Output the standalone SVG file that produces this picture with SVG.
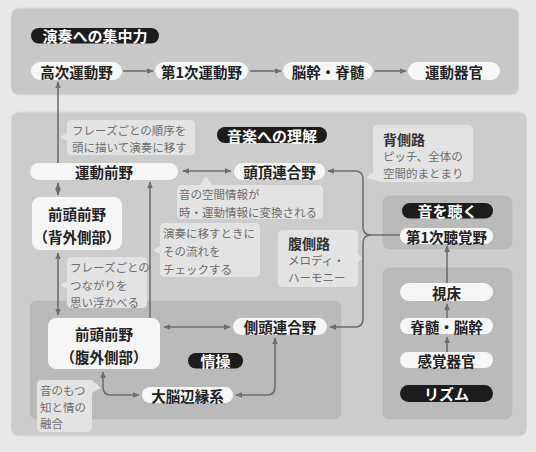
<svg xmlns="http://www.w3.org/2000/svg" width="536" height="452" viewBox="0 0 536 452">
<style>
text{font-family:"Noto Sans CJK JP","Noto Sans CJK SC",sans-serif;dominant-baseline:central}
.panel{fill:#c8c8c8;stroke:#dcdcdc;stroke-width:1}
.sub{fill:#bababa;stroke:#d0d0d0;stroke-width:1}
.pill{fill:#f6f6f6}
.nt{font-size:14.5px;font-weight:bold;fill:#222;text-anchor:middle}
.blk{fill:#1c1c1c}
.bt{font-size:15px;font-weight:bold;fill:#fff;text-anchor:middle}
.call{fill:#e3e3e3}
.ct{font-size:11.5px;fill:#6e6e6e}
.ch{font-size:14px;font-weight:bold;fill:#333}
.edge{fill:none;stroke:#6e6e6e;stroke-width:1.6}
</style>
<defs>
<marker id="ah" viewBox="0 0 10 10" refX="9" refY="5" markerWidth="4.5" markerHeight="4.5" orient="auto-start-reverse" markerUnits="strokeWidth">
<path d="M0,1 L10,5 L0,9 Z" fill="#6e6e6e"/>
</marker>
</defs>
<rect x="0" y="0" width="536" height="452" fill="#e8e8e8"/>
<rect class="panel" x="11" y="8" width="508" height="87" rx="8"/>
<rect class="panel" x="11" y="112" width="516" height="324" rx="8" style="fill:#cccccc"/>
<rect class="sub" x="29" y="300" width="313" height="120" rx="8"/>
<rect class="sub" x="382" y="195" width="131" height="55" rx="8"/>
<rect class="sub" x="382" y="267" width="131" height="153" rx="8"/>

<g id="label-shuchu"><rect class="blk" x="31" y="28" width="128" height="15.5" rx="7.75"/><text class="bt" x="95" y="35.5">演奏への集中力</text></g>
<g id="label-rikai"><rect class="blk" x="217" y="127" width="110" height="16" rx="8"/><text class="bt" x="272" y="135">音楽への理解</text></g>
<g id="label-kiku"><rect class="blk" x="402" y="203" width="91" height="15.5" rx="7.75"/><text class="bt" x="447.5" y="210.5">音を聴く</text></g>
<g id="label-jouso"><rect class="blk" x="188" y="353" width="55" height="15.5" rx="7.75"/><text class="bt" x="215.5" y="360.5">情操</text></g>
<g id="label-rhythm"><rect class="blk" x="400" y="385" width="93" height="17" rx="8.5"/><text class="bt" x="446.5" y="393.5">リズム</text></g>

<g id="connectors">
<path class="edge" d="M123,71 H153" marker-end="url(#ah)"/>
<path class="edge" d="M250,71 H281" marker-end="url(#ah)"/>
<path class="edge" d="M375,71 H406" marker-end="url(#ah)"/>
<path class="edge" d="M58,163 V82" marker-end="url(#ah)"/>
<path class="edge" d="M183,171 H231" marker-start="url(#ah)" marker-end="url(#ah)"/>
<path class="edge" d="M400,235 H371 Q363,235 363,227 V179 Q363,171 355,171 H328" marker-end="url(#ah)"/>
<path class="edge" d="M371,235 Q363,235 363,243 V319 Q363,327 355,327 H330" marker-end="url(#ah)"/>
<path class="edge" d="M58,183 V195" marker-start="url(#ah)" marker-end="url(#ah)"/>
<path class="edge" d="M58,253 V315" marker-start="url(#ah)" marker-end="url(#ah)"/>
<path class="edge" d="M150,318 V182" marker-end="url(#ah)"/>
<path class="edge" d="M164,327 H230" marker-start="url(#ah)" marker-end="url(#ah)"/>
<path class="edge" d="M103,372 V387 Q103,395 111,395 H139" marker-start="url(#ah)" marker-end="url(#ah)"/>
<path class="edge" d="M275,338 V387 Q275,395 267,395 H236" marker-start="url(#ah)" marker-end="url(#ah)"/>
<path class="edge" d="M447,283 V246" marker-end="url(#ah)"/>
<path class="edge" d="M447,318 V304" marker-end="url(#ah)"/>
<path class="edge" d="M447,352 V337" marker-end="url(#ah)"/>
</g>

<g id="call-junjo"><path class="call" d="M72,120 H190 Q195,120 195,125 V150 Q195,155 190,155 H72 Q67,155 67,150 V141 L60,137 L67,133 V125 Q67,120 72,120 Z"/>
<text class="ct" x="72" y="130">フレーズごとの順序を</text><text class="ct" x="72" y="147">頭に描いて演奏に移す</text></g>
<g id="call-kukan"><path class="call" d="M182,185 H200 L206,176 L212,185 H318 Q323,185 323,190 V214 Q323,219 318,219 H182 Q177,219 177,214 V190 Q177,185 182,185 Z"/>
<text class="ct" x="179" y="194">音の空間情報が</text><text class="ct" x="179" y="212">時・運動情報に変換される</text></g>
<g id="call-haisokuro"><path class="call" d="M378,125 H468 Q473,125 473,130 V177 Q473,182 468,182 H382 L366,178 L373,172 V130 Q373,125 378,125 Z"/>
<text class="ch" x="383" y="139">背側路</text><text class="ct" x="383" y="156">ピッチ、全体の</text><text class="ct" x="383" y="173">空間的まとまり</text></g>
<g id="call-nagare"><path class="call" d="M165,223 H255 Q260,223 260,228 V272 Q260,277 255,277 H165 Q160,277 160,272 V254 L153,250 L160,246 V228 Q160,223 165,223 Z"/>
<text class="ct" x="163" y="233">演奏に移すときに</text><text class="ct" x="163" y="251">その流れを</text><text class="ct" x="163" y="269">チェックする</text></g>
<g id="call-tsunagari"><path class="call" d="M72,257 H142 Q147,257 147,262 V303 Q147,308 142,308 H72 Q67,308 67,303 V289 L60,285 L67,281 V262 Q67,257 72,257 Z"/>
<text class="ct" x="70" y="267">フレーズごとの</text><text class="ct" x="70" y="285">つながりを</text><text class="ct" x="70" y="302">思い浮かべる</text></g>
<g id="call-fukusokuro"><path class="call" d="M283,230 H353 Q358,230 358,235 V254 L362,258 L358,262 V282 Q358,287 353,287 H283 Q278,287 278,282 V235 Q278,230 283,230 Z"/>
<text class="ch" x="288" y="243">腹側路</text><text class="ct" x="288" y="260">メロディ・</text><text class="ct" x="288" y="277">ハーモニー</text></g>
<g id="call-yugo"><path class="call" d="M42,380 H92 L101,388 L92,393 V427 Q92,432 87,432 H42 Q37,432 37,427 V385 Q37,380 42,380 Z"/>
<text class="ct" x="40" y="390">音のもつ</text><text class="ct" x="40" y="407">知と情の</text><text class="ct" x="40" y="423">融合</text></g>

<g id="n-koji"><rect class="pill" x="31" y="62" width="91" height="18" rx="9"/><text class="nt" x="76.5" y="71">高次運動野</text></g>
<g id="n-dai1undo"><rect class="pill" x="155" y="62" width="93" height="18" rx="9"/><text class="nt" x="201.5" y="71">第1次運動野</text></g>
<g id="n-noukan-sekizui"><rect class="pill" x="283" y="62" width="90" height="18" rx="9"/><text class="nt" x="328" y="71">脳幹・脊髄</text></g>
<g id="n-undokikan"><rect class="pill" x="408" y="62" width="92" height="18" rx="9"/><text class="nt" x="454" y="71">運動器官</text></g>
<g id="n-undozenya"><rect class="pill" x="30" y="163" width="148" height="17" rx="8.5"/><text class="nt" x="104" y="171.5">運動前野</text></g>
<g id="n-touchou"><rect class="pill" x="234" y="163" width="91" height="17" rx="8.5"/><text class="nt" x="279.5" y="171.5">頭頂連合野</text></g>
<g id="n-haigai"><rect class="pill" x="32" y="197" width="90" height="53" rx="8"/><text class="nt" x="77" y="213">前頭前野</text><text class="nt" x="77" y="236">（背外側部）</text></g>
<g id="n-fukugai"><rect class="pill" x="48" y="318" width="112" height="51" rx="8"/><text class="nt" x="104" y="333">前頭前野</text><text class="nt" x="104" y="356">（腹外側部）</text></g>
<g id="n-sokutou"><rect class="pill" x="233" y="318" width="94" height="17" rx="8.5"/><text class="nt" x="280" y="326.5">側頭連合野</text></g>
<g id="n-henen"><rect class="pill" x="142" y="387" width="91" height="16" rx="8"/><text class="nt" x="187.5" y="395">大脳辺縁系</text></g>
<g id="n-choukaku"><rect class="pill" x="400" y="228" width="93" height="16" rx="8"/><text class="nt" x="446.5" y="236">第1次聴覚野</text></g>
<g id="n-shishou"><rect class="pill" x="400" y="283" width="93" height="18" rx="9"/><text class="nt" x="446.5" y="292">視床</text></g>
<g id="n-sekizui-noukan"><rect class="pill" x="400" y="318" width="93" height="16" rx="8"/><text class="nt" x="446.5" y="326">脊髄・脳幹</text></g>
<g id="n-kankaku"><rect class="pill" x="400" y="352" width="93" height="16" rx="8"/><text class="nt" x="446.5" y="360">感覚器官</text></g>
</svg>
